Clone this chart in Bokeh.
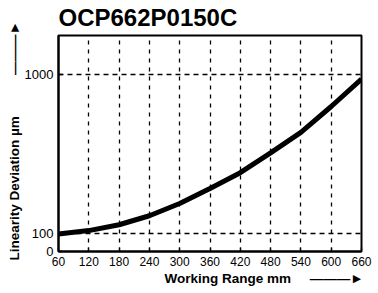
from bokeh.plotting import figure
from bokeh.models import FixedTicker, Range1d, Title
from bokeh.embed import file_html
from bokeh.resources import INLINE

title_text = "OCP662P0150C"
x_label = "Working Range mm"
y_label = "Linearity Deviation µm"
arrow_text = "\u2014\u2014\u2014\u25BA"
NBSP = "\u00A0"

x_ticks = [60, 120, 180, 240, 300, 360, 420, 480, 540, 600, 660]
y_ticks = [0, 100, 1000]
x_grid = [120, 180, 240, 300, 360, 420, 480, 540, 600]
y_grid = [100, 1000]

working_range = [60, 120, 180, 240, 300, 360, 420, 480, 540, 600, 660]
deviation = [99, 118, 151, 202, 271, 356, 445, 557, 673, 819, 974]

FONT = "Liberation Sans"

p = figure(width=376, height=290, output_backend="svg", toolbar_location=None,
           x_range=Range1d(60, 660), y_range=Range1d(0, 1220),
           min_border_left=58, min_border_right=15, min_border_top=34,
           min_border_bottom=39)
p.background_fill_color = "white"
p.border_fill_color = "white"
p.outline_line_color = "black"
p.outline_line_width = 2

p.title.text = title_text
p.title.align = "left"
p.title.vertical_align = "top"
p.title.text_font = FONT
p.title.text_font_style = "bold"
p.title.text_font_size = "24px"
p.title.text_color = "black"
p.title.standoff = 6

for ax in (p.xaxis[0], p.yaxis[0]):
    ax.axis_line_width = 2
    ax.axis_line_color = "black"
    ax.major_tick_in = 4
    ax.major_tick_out = 0
    ax.major_tick_line_width = 1.3
    ax.minor_tick_line_color = None
    ax.major_label_text_font = FONT
    ax.major_label_text_color = "black"

p.xaxis.major_label_text_font_size = "12px"
p.yaxis.major_label_text_font_size = "13px"
p.xaxis.ticker = FixedTicker(ticks=x_ticks)
p.yaxis.ticker = FixedTicker(ticks=y_ticks)
p.xaxis.major_label_standoff = 5
p.yaxis.major_label_standoff = 5

p.xgrid.ticker = FixedTicker(ticks=x_grid)
p.ygrid.ticker = FixedTicker(ticks=y_grid)
p.xgrid.grid_line_color = "black"
p.ygrid.grid_line_color = "black"
p.xgrid.grid_line_width = 1.3
p.ygrid.grid_line_width = 1.3
p.xgrid.grid_line_dash = "4 5"
p.ygrid.grid_line_dash = "5 4"

p.line(working_range, deviation, line_color="black", line_width=5)

p.add_layout(Title(text=x_label + NBSP * 5 + arrow_text, align="left", offset=106,
                   standoff=1, text_font=FONT, text_font_style="bold",
                   text_font_size="13.5px", text_color="black"), "below")
p.add_layout(Title(text=y_label + NBSP * 11 + arrow_text, align="left", offset=-9,
                   standoff=0, text_font=FONT, text_font_style="bold",
                   text_font_size="13.5px", text_color="black"), "left")

open("out.html", "w").write(file_html(p, INLINE))
